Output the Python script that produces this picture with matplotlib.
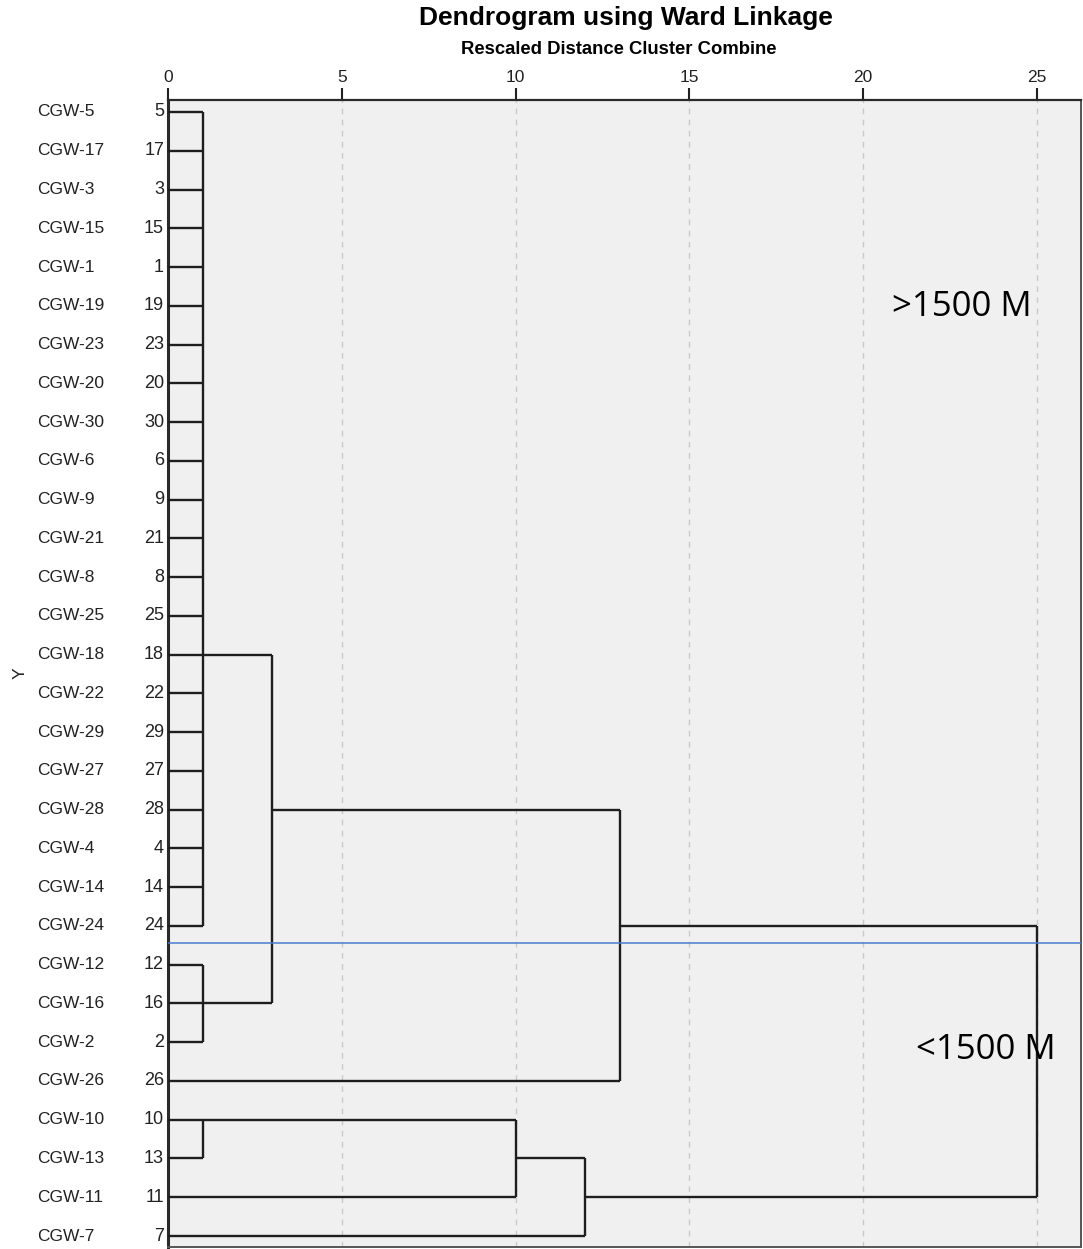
import matplotlib
matplotlib.use("Agg")
import matplotlib.pyplot as plt

# Leaf order (top to bottom), case numbers and case labels
case_numbers = [5, 17, 3, 15, 1, 19, 23, 20, 30, 6, 9, 21, 8, 25, 18,
                22, 29, 27, 28, 4, 14, 24, 12, 16, 2, 26, 10, 13, 11, 7]
case_labels = ["CGW-5", "CGW-17", "CGW-3", "CGW-15", "CGW-1", "CGW-19",
               "CGW-23", "CGW-20", "CGW-30", "CGW-6", "CGW-9", "CGW-21",
               "CGW-8", "CGW-25", "CGW-18", "CGW-22", "CGW-29", "CGW-27",
               "CGW-28", "CGW-4", "CGW-14", "CGW-24", "CGW-12", "CGW-16",
               "CGW-2", "CGW-26", "CGW-10", "CGW-13", "CGW-11", "CGW-7"]

# Merge steps: members (case numbers or earlier merges "m<i>"),
# rescaled combine distance, and the case row where the cluster line leaves
merge_members = [
    [5, 17, 3, 15, 1, 19, 23, 20, 30, 6, 9, 21, 8, 25, 18, 22, 29, 27, 28, 4, 14, 24],
    [12, 16, 2],
    [10, 13],
    ["m0", "m1"],
    ["m3", 26],
    ["m2", 11],
    ["m5", 7],
    ["m4", "m6"],
]
merge_heights = [1, 1, 1, 3, 13, 10, 12, 25]
merge_anchor = [18, 16, 10, 28, 24, 13, 11, None]

x_ticks = [0, 5, 10, 15, 20, 25]
cut_level = 22.45
group_labels = [">1500 M", "<1500 M"]

W, H, DPI = 1083, 1249, 100
fig = plt.figure(figsize=(W / DPI, H / DPI), dpi=DPI)
ax = fig.add_axes([168 / W, 1 - 1247 / H, (1081 - 168) / W, (1247 - 100) / H])
ax.set_facecolor("#f0f0f0")

row_of = {c: i + 1 for i, c in enumerate(case_numbers)}

# position of each node: (x of its line end, row it attaches at)
pos = {c: (0.0, row_of[c]) for c in case_numbers}
line_kw = dict(color="#1e1e1e", lw=1.7, solid_capstyle="butt", zorder=3)
for i, (members, h, anchor) in enumerate(zip(merge_members, merge_heights, merge_anchor)):
    rows = []
    for k in members:
        x0, r = pos[k]
        ax.plot([x0, h], [r, r], **line_kw)
        rows.append(r)
    ax.plot([h, h], [min(rows), max(rows)], **line_kw)
    if anchor is not None:
        pos["m%d" % i] = (float(h), row_of[anchor])

# grid
for t in x_ticks[1:]:
    ax.axvline(t, color="#c9c9c9", lw=1.0, ls=(0, (4, 4)), zorder=1)

# cut line
ax.axhline(cut_level, color="#4a7bd0", lw=1.1, zorder=4)

ax.set_xlim(0, (1081 - 168) / 34.76)
ax.set_ylim(30 + 11 / 38.76, 1 - 12 / 38.76)

ax.xaxis.tick_top()
ax.set_xticks(x_ticks)
ax.set_xticklabels([str(t) for t in x_ticks], fontsize=12.5, family="Liberation Sans", color="#222222")
ax.tick_params(axis="x", direction="out", length=8.5, width=1.5, color="#222222", pad=2)
ax.set_yticks([])

ax.spines["left"].set_linewidth(2.2)
ax.spines["left"].set_color("#2a2a2a")
ax.spines["top"].set_linewidth(1.6)
ax.spines["top"].set_color("#2a2a2a")
for s in ("right", "bottom"):
    ax.spines[s].set_linewidth(1.4)
    ax.spines[s].set_color("#555555")

# case numbers and labels
for i, (num, lab) in enumerate(zip(case_numbers, case_labels)):
    y = i + 1
    ax.annotate(str(num), xy=(0, y), xycoords=("axes fraction", "data"),
                xytext=(-4, 0), textcoords="offset pixels", ha="right", va="center",
                fontsize=13, family="Liberation Sans", color="#222222")
    ax.annotate(lab, xy=(0, y), xycoords=("axes fraction", "data"),
                xytext=(37 - 168, 0), textcoords="offset pixels", ha="left", va="center",
                fontsize=12.5, family="Liberation Sans", color="#222222")

fig.text(20 / W, 1 - 673 / H, "Y", rotation=90, ha="center", va="center",
         fontsize=12.5, family="Liberation Sans", color="#222222")

fig.text(626 / W, 1 - 18 / H, "Dendrogram using Ward Linkage", ha="center", va="center",
         fontsize=19, fontweight="bold", family="Liberation Sans")
fig.text(619 / W, 1 - 50 / H, "Rescaled Distance Cluster Combine", ha="center", va="center",
         fontsize=13.3, fontweight="bold", family="Liberation Sans")

ax.text((962 - 168) / 34.76, (307 - 112) / 38.76 + 1, group_labels[0], ha="center", va="center",
        fontsize=25, family="Open Sans", color="black", zorder=5)
ax.text((986 - 168) / 34.76, (1050 - 112) / 38.76 + 1, group_labels[1], ha="center", va="center",
        fontsize=25, family="Open Sans", color="black", zorder=5)

fig.savefig("out.png", dpi=DPI, facecolor="white")
